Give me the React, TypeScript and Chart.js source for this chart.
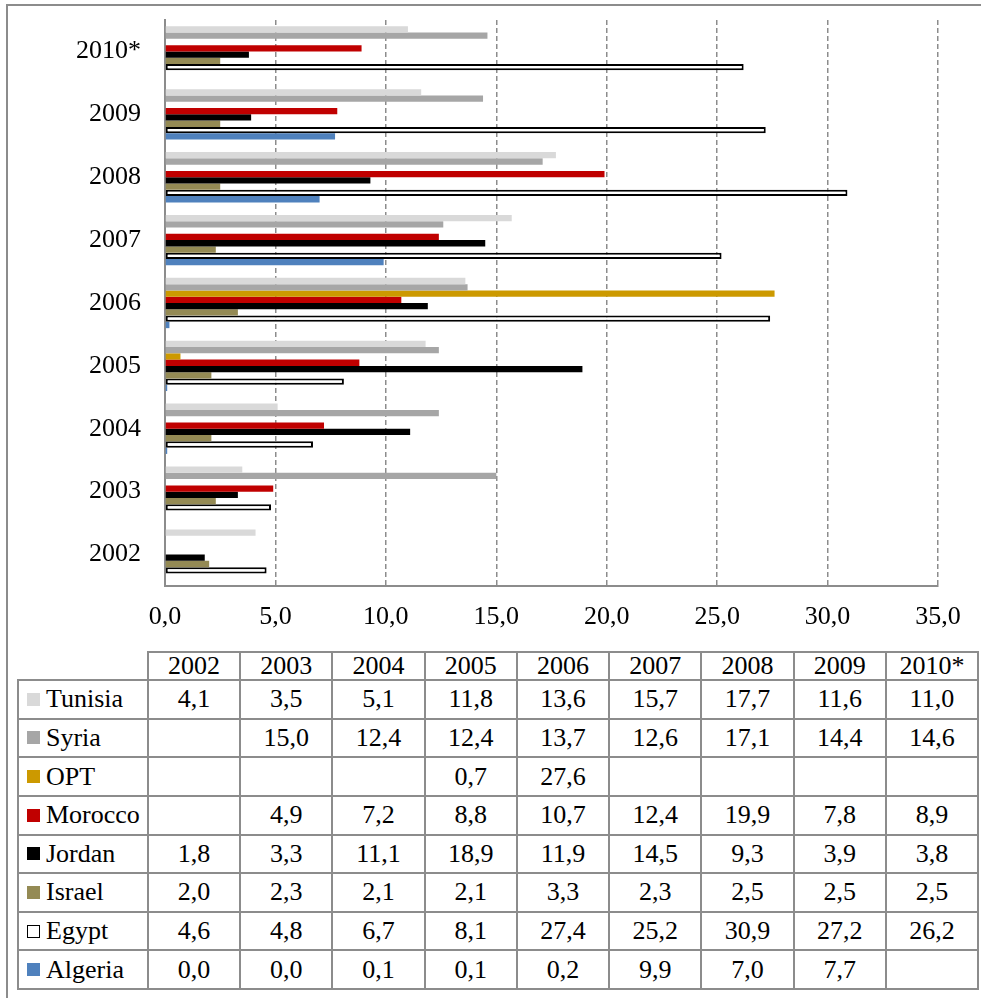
import React, { useEffect, useRef } from 'react';
import { Chart, registerables } from 'chart.js';
Chart.register(...registerables);

const years = ['2002', '2003', '2004', '2005', '2006', '2007', '2008', '2009', '2010*'];
const countries = ['Tunisia', 'Syria', 'OPT', 'Morocco', 'Jordan', 'Israel', 'Egypt', 'Algeria'];
const tunisia = [4.1, 3.5, 5.1, 11.8, 13.6, 15.7, 17.7, 11.6, 11.0];
const syria = [null, 15.0, 12.4, 12.4, 13.7, 12.6, 17.1, 14.4, 14.6];
const opt = [null, null, null, 0.7, 27.6, null, null, null, null];
const morocco = [null, 4.9, 7.2, 8.8, 10.7, 12.4, 19.9, 7.8, 8.9];
const jordan = [1.8, 3.3, 11.1, 18.9, 11.9, 14.5, 9.3, 3.9, 3.8];
const israel = [2.0, 2.3, 2.1, 2.1, 3.3, 2.3, 2.5, 2.5, 2.5];
const egypt = [4.6, 4.8, 6.7, 8.1, 27.4, 25.2, 30.9, 27.2, 26.2];
const algeria = [0.0, 0.0, 0.1, 0.1, 0.2, 9.9, 7.0, 7.7, null];
const xMin = 0;
const xMax = 35;
const xStep = 5;

const seriesValues: (number | null)[][] = [tunisia, syria, opt, morocco, jordan, israel, egypt, algeria];
const fillColors = ['#d9d9d9', '#a6a6a6', '#cc9900', '#c00000', '#000000', '#948a54', '#ffffff', '#4f81bd'];
const borderColors = ['#d9d9d9', '#a6a6a6', '#cc9900', '#c00000', '#000000', '#948a54', '#000000', '#4f81bd'];
const borderWidths = [0, 0, 0, 0, 0, 0, 2, 0];

const FONT = "'Liberation Serif', 'Times New Roman', serif";
const FS = 26;
const LINE = '#8c8c8c';

const fmt = (v: number | null) => (v == null ? '' : v.toFixed(1).replace('.', ','));

// table geometry
const tableLeft = 18;
const firstColRight = 148;
const tableRight = 978;
const headerTop = 652;
const headerBottom = 680;
const tableBottom = 989;

export default function App() {
  const ref = useRef<HTMLCanvasElement>(null);

  useEffect(() => {
    const chart = new Chart(ref.current!, {
      type: 'bar',
      data: {
        labels: years,
        datasets: countries.map((c, i) => ({
          label: c,
          data: seriesValues[i],
          backgroundColor: fillColors[i],
          borderColor: borderColors[i],
          borderWidth: borderWidths[i],
          borderSkipped: false as any,
          categoryPercentage: 0.8,
          barPercentage: 1.0,
        })),
      },
      options: {
        indexAxis: 'y',
        responsive: false,
        animation: false,
        devicePixelRatio: 1,
        layout: { padding: { top: 20, right: 43, left: 0, bottom: 0 } },
        plugins: { legend: { display: false }, tooltip: { enabled: false } },
        scales: {
          x: {
            min: xMin,
            max: xMax,
            ticks: {
              stepSize: xStep,
              color: '#000',
              font: { family: FONT, size: FS },
              padding: 16,
              maxRotation: 0,
              callback: (v: any) => Number(v).toFixed(1).replace('.', ','),
            },
            grid: { color: LINE, lineWidth: 1.5, drawTicks: false },
            border: { display: true, color: LINE, width: 2, dash: [5, 3] },
            afterFit: (s: any) => { s.height = 54; },
          },
          y: {
            reverse: true,
            ticks: { color: '#000', font: { family: FONT, size: FS }, padding: 24 },
            grid: { display: false, drawTicks: false },
            border: { display: true, color: LINE, width: 2 },
            afterFit: (s: any) => { s.width = 165; s.paddingTop = 0; s.paddingBottom = 0; },
          },
        },
      },
    });
    return () => chart.destroy();
  }, []);

  const colW = (tableRight - firstColRight) / years.length;
  const colXs = years.map((_, i) => firstColRight + i * colW);
  const rowH = (tableBottom - headerBottom) / countries.length;
  const rowYs = countries.map((_, i) => headerBottom + i * rowH);

  const hLines: { x1: number; x2: number; y: number }[] = [
    { x1: firstColRight, x2: tableRight, y: headerTop },
    ...rowYs.map((y) => ({ x1: tableLeft, x2: tableRight, y })),
    { x1: tableLeft, x2: tableRight, y: tableBottom },
  ];
  const vLines: { x: number; y1: number; y2: number }[] = [
    { x: tableLeft, y1: headerBottom, y2: tableBottom },
    ...colXs.map((x) => ({ x, y1: headerTop, y2: tableBottom })),
    { x: tableRight, y1: headerTop, y2: tableBottom },
  ];

  const textStyle: React.CSSProperties = {
    position: 'absolute',
    fontFamily: FONT,
    fontSize: FS,
    color: '#000',
    display: 'flex',
    alignItems: 'center',
    whiteSpace: 'nowrap',
  };

  return (
    <div style={{ position: 'absolute', left: 0, top: 0, width: 981, height: 998, overflow: 'hidden', background: '#fff' }}>
      <div style={{ position: 'absolute', left: 6, top: 4, width: 1000, height: 1000, borderLeft: `2px solid ${LINE}`, borderTop: `2px solid ${LINE}` }} />
      <canvas ref={ref} width={981} height={640} style={{ position: 'absolute', left: 0, top: 0, width: 981, height: 640 }} />
      {hLines.map((l, i) => (
        <div key={'h' + i} style={{ position: 'absolute', left: l.x1 - 1, top: l.y - 1, width: l.x2 - l.x1 + 2, height: 2, background: LINE }} />
      ))}
      {vLines.map((l, i) => (
        <div key={'v' + i} style={{ position: 'absolute', left: l.x - 1, top: l.y1 - 1, width: 2, height: l.y2 - l.y1 + 2, background: LINE }} />
      ))}
      {years.map((y, i) => (
        <div key={'yh' + i} style={{ ...textStyle, left: colXs[i], top: headerTop, width: colW, height: headerBottom - headerTop, justifyContent: 'center' }}>{y}</div>
      ))}
      {countries.map((c, r) => (
        <React.Fragment key={'r' + r}>
          <div style={{ ...textStyle, left: tableLeft, top: rowYs[r], width: firstColRight - tableLeft, height: rowH }}>
            <span style={{ display: 'inline-block', width: 13, height: 13, marginLeft: 9, marginRight: 6, boxSizing: 'border-box', background: fillColors[r], border: borderWidths[r] ? '1.5px solid #000' : 'none' }} />
            {c}
          </div>
          {seriesValues[r].map((v, i) => (
            <div key={'c' + i} style={{ ...textStyle, left: colXs[i], top: rowYs[r], width: colW, height: rowH, justifyContent: 'center' }}>{fmt(v)}</div>
          ))}
        </React.Fragment>
      ))}
    </div>
  );
}
